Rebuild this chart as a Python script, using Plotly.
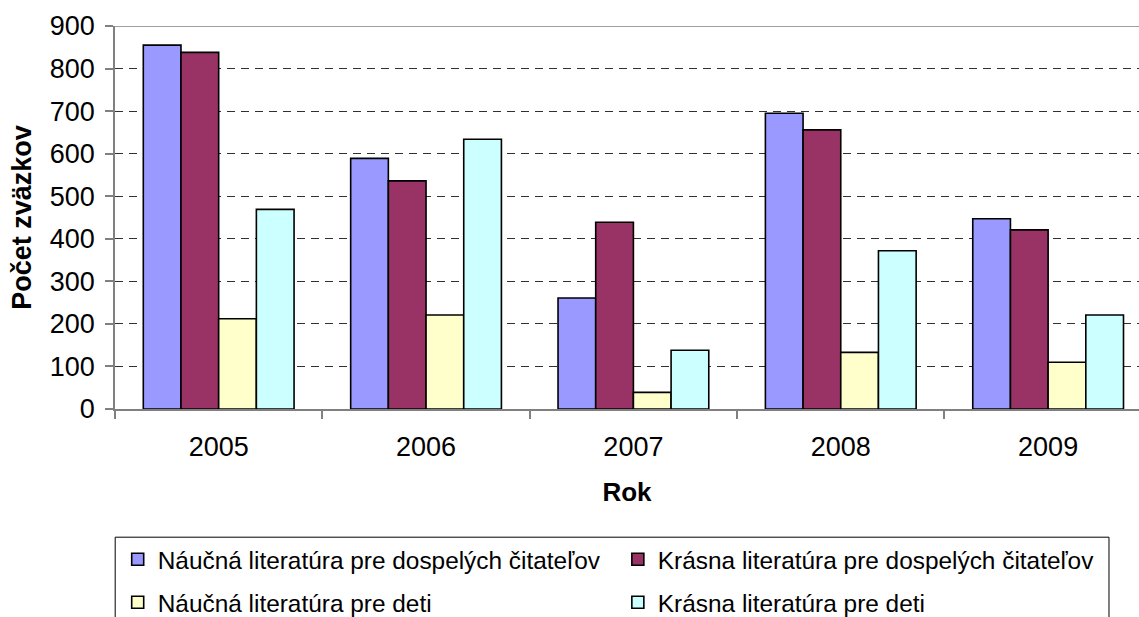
import plotly.graph_objects as go

years = ["2005", "2006", "2007", "2008", "2009"]
series_names = [
    "Náučná literatúra pre dospelých čitateľov",
    "Krásna literatúra pre dospelých čitateľov",
    "Náučná literatúra pre deti",
    "Krásna literatúra pre deti",
]
naucna_dospeli = [855, 589, 261, 695, 447]
krasna_dospeli = [838, 536, 439, 656, 421]
naucna_deti = [212, 221, 39, 133, 110]
krasna_deti = [469, 634, 138, 372, 221]
colors = ["#9999FF", "#993366", "#FFFFCC", "#CCFFFF"]
y_ticks = [0, 100, 200, 300, 400, 500, 600, 700, 800, 900]

W, H = 1139, 617
L, T = 115.3, 25.7
B_PX = 409.3
plot_w = W - L
plot_h = B_PX - T
cat_w = 207.3

def px_x(px):
    return (px - L) / plot_w

def px_y(py):
    return (B_PX - py) / plot_h

FONT = "Liberation Sans, Arial, sans-serif"

fig = go.Figure()
values = [naucna_dospeli, krasna_dospeli, naucna_deti, krasna_deti]
legend_ids = ["legend", "legend2", "legend3", "legend4"]
for name, vals, col, lg in zip(series_names, values, colors, legend_ids):
    fig.add_trace(go.Bar(
        x=years, y=vals, name=name,
        marker=dict(color=col, line=dict(color="black", width=1.6)),
        legend=lg,
    ))

legend_pos = [(118, 560), (618, 560), (118, 603), (618, 603)]
leg_common = dict(
    font=dict(family=FONT, size=24.4, color="black"),
    bgcolor="rgba(0,0,0,0)",
    borderwidth=0,
    xanchor="left",
    yanchor="middle",
    itemclick=False,
)
layout_legends = {}
for lg, (lx, ly) in zip(legend_ids, legend_pos):
    layout_legends[lg] = dict(x=px_x(lx), y=px_y(ly), **leg_common)

fig.update_layout(
    width=W, height=H,
    margin=dict(l=L, r=0, t=T, b=H - B_PX, autoexpand=False),
    paper_bgcolor="white",
    plot_bgcolor="white",
    barmode="group",
    bargap=0.273,
    bargroupgap=0,
    showlegend=True,
    font=dict(family=FONT, color="black"),
    **layout_legends,
)

fig.update_xaxes(
    type="category",
    range=[-0.5, -0.5 + plot_w / cat_w],
    showline=True, linecolor="#808080", linewidth=1.5,
    ticks="outside", tickson="boundaries", ticklen=8, tickcolor="#808080", tickwidth=1.5,
    tickfont=dict(family=FONT, size=27, color="black"),
    ticklabelstandoff=13,
    showgrid=False,
    title=dict(text="<b>Rok</b>", font=dict(family=FONT, size=26, color="black"), standoff=22),
)
fig.update_yaxes(
    range=[0, 900],
    tickvals=y_ticks,
    showline=True, linecolor="#808080", linewidth=1.5,
    ticks="outside", ticklen=8, tickcolor="#808080", tickwidth=1.5,
    tickfont=dict(family=FONT, size=27, color="black"),
    ticklabelstandoff=5,
    showgrid=True, gridcolor="#303030", gridwidth=1, griddash="8px,6px",
    zeroline=False,
    title=dict(text="<b>Počet zväzkov</b>", font=dict(family=FONT, size=27, color="black"), standoff=10),
)

# plot area top border
fig.add_shape(type="line", xref="paper", yref="y", x0=0, x1=1, y0=900, y1=900,
              line=dict(color="#808080", width=1.5), layer="above")
# legend frame
fig.add_shape(type="rect", xref="paper", yref="paper",
              x0=px_x(115.5), x1=px_x(1109), y0=px_y(537.7), y1=px_y(640),
              line=dict(color="black", width=1), fillcolor="rgba(0,0,0,0)", layer="above")

fig.write_html(
    "out.html",
    config={"displayModeBar": False},
    post_script="document.body.style.margin='0';document.body.style.padding='0';document.body.style.overflow='hidden';",
)
